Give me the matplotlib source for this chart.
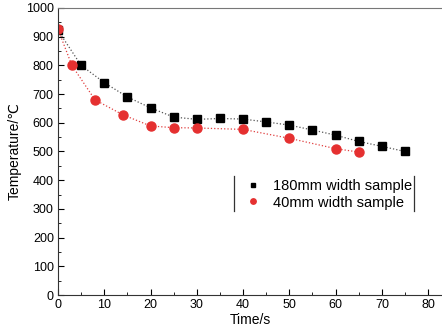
import matplotlib
matplotlib.use('Agg')
import matplotlib.pyplot as plt
from matplotlib.lines import Line2D
from matplotlib.transforms import Bbox
from matplotlib.ticker import MultipleLocator

plt.rcParams['font.family'] = ['Liberation Sans', 'DejaVu Sans']

# 180mm width sample
t_wide = [0, 5, 10, 15, 20, 25, 30, 35, 40, 45, 50, 55, 60, 65, 70, 75]
T_wide = [922, 800, 740, 690, 652, 620, 612, 615, 613, 603, 592, 575, 557, 535, 518, 500]

# 40mm width sample
t_narrow = [0, 3, 8, 14, 20, 25, 30, 40, 50, 60, 65]
T_narrow = [926, 800, 680, 628, 589, 583, 582, 577, 546, 510, 498]

fig = plt.figure(figsize=(4.42, 3.35), dpi=100)
ax = fig.add_axes([58 / 442, 40 / 335, 384 / 442, 287 / 335])

ax.plot(t_wide, T_wide, color='#555555', ls=':', lw=0.9, marker='s', ms=5.5,
        mfc='black', mec='black', label='180mm width sample')
ax.plot(t_narrow, T_narrow, color='#e04040', ls=':', lw=0.9, marker='o', ms=6.5,
        mfc='#e53030', mec='#e53030', label='40mm width sample')

ax.set_xlim(0, 83)
ax.set_ylim(0, 1000)
ax.xaxis.set_major_locator(MultipleLocator(10))
ax.xaxis.set_minor_locator(MultipleLocator(5))
ax.yaxis.set_major_locator(MultipleLocator(100))
ax.yaxis.set_minor_locator(MultipleLocator(50))
ax.tick_params(which='both', direction='in', top=False, right=False, labelsize=9, pad=3)
ax.tick_params(which='major', length=4)
ax.tick_params(which='minor', length=2)
ax.spines['right'].set_visible(False)
for s in ['left', 'bottom']:
    ax.spines[s].set_color('#333333')
ax.spines['top'].set_color('#777777')

ax.set_xlabel('Time/s', fontsize=10, labelpad=1)
ax.set_ylabel('Temperature/\u2103', fontsize=10, labelpad=3)

leg = ax.legend(loc='upper left', bbox_to_anchor=(0.458, 0.418), frameon=False,
                fontsize=10.5, handlelength=2.0, handletextpad=0.4,
                markerscale=0.6, labelspacing=0.15, borderpad=0.3,
                borderaxespad=0)
for h in leg.legend_handles:
    h.set_linestyle('')

# Origin-style legend frame: only vertical bars on the sides, hugging the text
fig.canvas.draw()
r = fig.canvas.get_renderer()
lb = leg.get_window_extent(r)
tb = Bbox.union([t.get_window_extent(r) for t in leg.get_texts()])
box = Bbox.from_extents(lb.x0, tb.y0 - 1, tb.x1 + 2, tb.y1 + 3).transformed(fig.transFigure.inverted())
for xx in (box.x0, box.x1):
    fig.add_artist(Line2D([xx, xx], [box.y0, box.y1], transform=fig.transFigure,
                          color='#333333', lw=0.9))

fig.savefig('out.png', dpi=100)
